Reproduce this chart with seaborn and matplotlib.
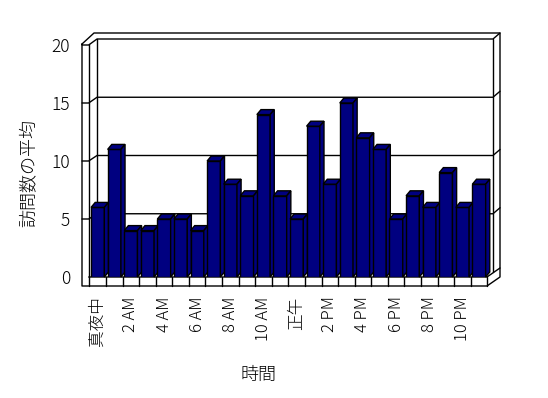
import numpy as np
import seaborn as sns
import matplotlib.pyplot as plt
from matplotlib.patches import Polygon

# hours of the day and average visits
hours = ['真夜中', '1 AM', '2 AM', '3 AM', '4 AM', '5 AM', '6 AM', '7 AM', '8 AM', '9 AM', '10 AM', '11 AM',
         '正午', '1 PM', '2 PM', '3 PM', '4 PM', '5 PM', '6 PM', '7 PM', '8 PM', '9 PM', '10 PM', '11 PM']
visits = [6, 11, 4, 4, 5, 5, 4, 10, 8, 7, 14, 7,
          5, 13, 8, 15, 12, 11, 5, 7, 6, 9, 6, 8]
y_ticks = [0, 5, 10, 15, 20]

sns.set_theme(style='white')
plt.rcParams['font.family'] = ['Noto Sans CJK JP', 'DejaVu Sans']
plt.rcParams['font.weight'] = 'light'
plt.rcParams['text.color'] = 'black'
plt.rcParams['xtick.color'] = 'black'
plt.rcParams['ytick.color'] = 'black'

W, H = 548, 398
fig = plt.figure(figsize=(W / 100, H / 100), dpi=100)
fig.patch.set_facecolor('white')

# frame of the "3d" box, drawn in pixel coords on an overlay behind the bars
bg = fig.add_axes([0, 0, 1, 1], zorder=0)
bg.set_xlim(0, W)
bg.set_ylim(H, 0)
bg.axis('off')
lk = dict(color='black', lw=1)

# outer frame
bg.plot([82, 94, 500, 500, 487, 82, 82], [44, 33, 33, 277, 286, 286, 44], **lk)
# back wall and inner left edge
bg.plot([97, 97], [39, 272], **lk)
bg.plot([493, 493], [39, 272], **lk)
bg.plot([88.7, 88.7], [44, 277], **lk)
bg.plot([88.7, 487, 500], [277, 277, 268], **lk)
# gridlines
for v in y_ticks[1:]:
    yf = 277 - v * 11.6
    yb = 272 - v * 11.65
    bg.plot([82, 88.7, 97, 493, 500], [yf, yf, yb, yb, yb - 6], **lk)
# floor dividers
for k in range(25):
    xk = 89.4 + k * 16.58
    bg.plot([xk, xk], [277, 286], **lk)

# bars
ax = fig.add_axes([89.4 / W, (H - 277) / H, 397.9 / W, 232 / H], zorder=1)
ax.patch.set_alpha(0)
sns.barplot(x=hours, y=visits, order=hours, color='#000080', saturation=1,
            width=0.8, edgecolor='black', linewidth=1, ax=ax)

DX, DY = 0.25, 0.43
for i, p in enumerate(ax.patches):
    x0, w, h = p.get_x(), p.get_width(), p.get_height()
    p.set_zorder(10 + 2 * i)
    top = [(x0, h), (x0 + w, h), (x0 + w + DX, h + DY), (x0 + DX, h + DY)]
    side = [(x0 + w, 0), (x0 + w + DX, DY), (x0 + w + DX, h + DY), (x0 + w, h)]
    for pts in (top, side):
        ax.add_patch(Polygon(pts, closed=True, facecolor='#000080', edgecolor='black',
                             lw=1, zorder=11 + 2 * i, clip_on=False))

ax.set_xlim(-0.5, 23.5)
ax.set_ylim(0, 20)
for s in ax.spines.values():
    s.set_visible(False)
ax.grid(False)

ax.set_yticks(y_ticks)
ax.set_yticklabels([str(t) for t in y_ticks], fontsize=12.5)
ax.set_xticks(range(0, 24, 2))
ax.set_xticklabels(hours[::2], rotation=90, fontsize=12, va='top', ha='center')
ax.tick_params(axis='y', length=0, pad=14)
ax.tick_params(axis='x', length=0, pad=14)
ax.set_xlabel('')
ax.set_ylabel('')

fig.text(29 / W, 1 - 173 / H, '訪問数の平均', rotation=90, ha='center', va='center', fontsize=13)
fig.text(259 / W, 1 - 375 / H, '時間', ha='center', va='center', fontsize=13)

fig.savefig('out.png', dpi=100)
